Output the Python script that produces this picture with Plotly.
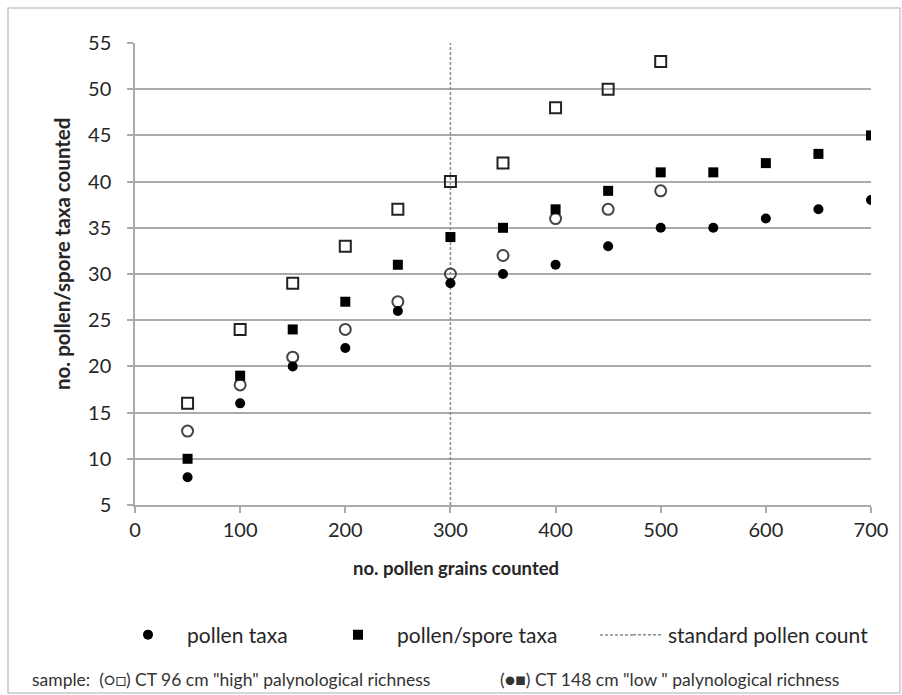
import plotly.graph_objects as go

# ---- data ----
x_high = [50, 100, 150, 200, 250, 300, 350, 400, 450, 500]
high_pollen = [13, 18, 21, 24, 27, 30, 32, 36, 37, 39]
high_spore = [16, 24, 29, 33, 37, 40, 42, 48, 50, 53]

x_low = [50, 100, 150, 200, 250, 300, 350, 400, 450, 500, 550, 600, 650, 700]
low_pollen = [8, 16, 20, 22, 26, 29, 30, 31, 33, 35, 35, 36, 37, 38]
low_spore = [10, 19, 24, 27, 31, 34, 35, 37, 39, 41, 41, 42, 43, 45]

standard_count = 300
x_ticks = [0, 100, 200, 300, 400, 500, 600, 700]
y_ticks = [5, 10, 15, 20, 25, 30, 35, 40, 45, 50, 55]

FONT = "Lato"
GRID = "#ababab"
TXT = "#262626"

fig = go.Figure()

fig.add_trace(go.Scatter(
    x=[standard_count, standard_count], y=[5, 55], mode="lines",
    line=dict(color="#8c8c8c", width=1.5, dash="3px,2px"),
    name="standard pollen count", legend="legend3", hoverinfo="skip"))

fig.add_trace(go.Scatter(
    x=x_high, y=high_spore, mode="markers", showlegend=False,
    marker=dict(symbol="square-open", size=11, color="#222", line=dict(width=2))))
fig.add_trace(go.Scatter(
    x=x_high, y=high_pollen, mode="markers", showlegend=False,
    marker=dict(symbol="circle-open", size=11, color="#444", line=dict(width=2))))
fig.add_trace(go.Scatter(
    x=x_low, y=low_spore, mode="markers", name="pollen/spore taxa", legend="legend2",
    marker=dict(symbol="square", size=10, color="#000")))
fig.add_trace(go.Scatter(
    x=x_low, y=low_pollen, mode="markers", name="pollen taxa", legend="legend",
    marker=dict(symbol="circle", size=10, color="#000")))

L, R, T, B = 135, 31, 43, 190
W, H = 902, 695
pw = W - L - R
ph = H - T - B

def px(xp):
    return (xp - L) / pw

def py(yp):
    return (H - B - yp) / ph

leg_common = dict(orientation="h", yanchor="middle", xanchor="left",
                  font=dict(family=FONT, size=21, color=TXT),
                  bgcolor="rgba(0,0,0,0)")

fig.update_layout(
    width=W, height=H,
    margin=dict(l=L, r=R, t=T, b=B),
    paper_bgcolor="white", plot_bgcolor="white",
    font=dict(family=FONT, color=TXT),
    legend=dict(x=px(109), y=py(635), itemwidth=68, **leg_common),
    legend2=dict(x=px(319), y=py(635), itemwidth=68, **leg_common),
    legend3=dict(x=px(628), y=py(635), **leg_common),
    xaxis=dict(range=[0, 700], tickvals=x_ticks, showgrid=False,
               showline=True, linecolor=GRID, linewidth=1.5,
               ticks="outside", ticklen=6, tickcolor=GRID, tickwidth=1.5,
               tickfont=dict(family=FONT, size=20, color=TXT),
               zeroline=False),
    yaxis=dict(range=[5, 55], tickvals=y_ticks, showgrid=True, gridcolor=GRID,
               gridwidth=1.5, showline=True, linecolor=GRID, linewidth=1.5,
               ticks="outside", ticklen=6, tickcolor=GRID, tickwidth=1.5,
               ticklabelstandoff=12,
               tickfont=dict(family=FONT, size=20, color=TXT),
               zeroline=False),
)

# axis titles
fig.add_annotation(xref="paper", yref="paper", x=px(456), y=py(568),
                   xanchor="center", yanchor="middle", showarrow=False,
                   text="<b>no. pollen grains counted</b>",
                   font=dict(family=FONT, size=18.5, color=TXT))
fig.add_annotation(xref="paper", yref="paper", x=px(62), y=py(254),
                   xanchor="center", yanchor="middle", showarrow=False, textangle=-90,
                   text="<b>no. pollen/spore taxa counted</b>",
                   font=dict(family=FONT, size=20.5, color=TXT))

# outer frame
fig.add_shape(type="rect", xref="paper", yref="paper",
              x0=px(8), x1=px(900), y0=py(693), y1=py(8),
              line=dict(color="#c8c8c8", width=1.5), fillcolor="rgba(0,0,0,0)", layer="below")

# extend the legend's dashed line sample to the left
fig.add_shape(type="line", xref="paper", yref="paper",
              x0=px(600), x1=px(635), y0=py(635), y1=py(635),
              line=dict(color="#8c8c8c", width=1.5, dash="3px,2px"))

fig.add_annotation(xref="paper", yref="paper", x=px(30), y=py(679),
                   xanchor="left", yanchor="middle", showarrow=False,
                   text='sample:  (○□) CT 96 cm "high" palynological richness',
                   font=dict(family=FONT, size=17.5, color="#333"))
fig.add_annotation(xref="paper", yref="paper", x=px(498), y=py(679),
                   xanchor="left", yanchor="middle", showarrow=False,
                   text='(●■) CT 148 cm "low " palynological richness',
                   font=dict(family=FONT, size=17.5, color="#333"))

fig.write_html("out.html")
